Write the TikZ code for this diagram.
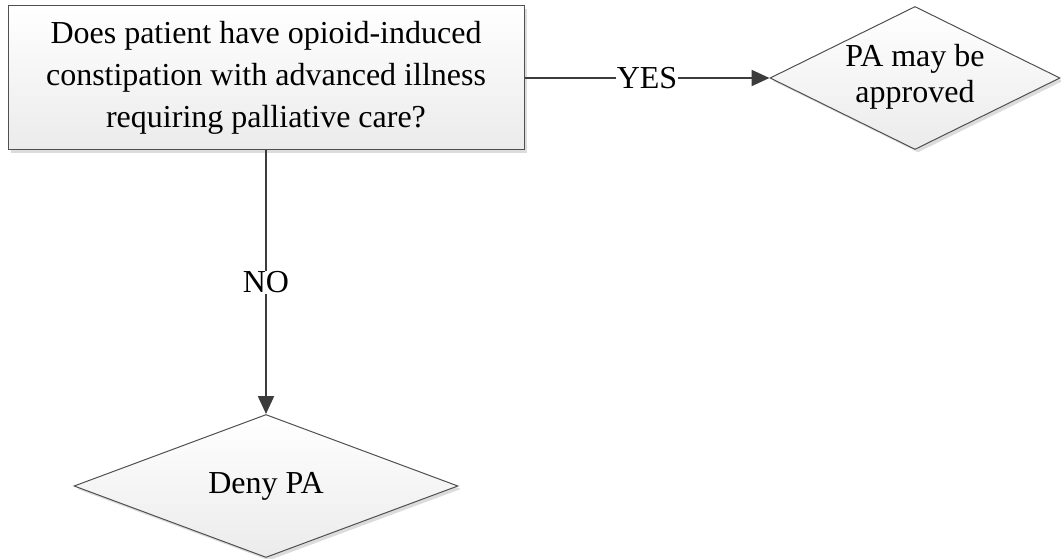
\documentclass[tikz,border=0pt]{standalone}
\usepackage{fontspec}
\setmainfont{Liberation Serif}
\usetikzlibrary{shapes.geometric,arrows.meta,shadows}
\definecolor{boxborder}{HTML}{505050}
\definecolor{fillbot}{HTML}{EBEBEB}
\definecolor{shadowc}{HTML}{DCDCDC}
\definecolor{linec}{HTML}{3C3C3C}
\begin{document}
\begin{tikzpicture}[x=1pt,y=1pt,
  shape base/.style={draw=boxborder, line width=1pt, top color=white, bottom color=fillbot,
    drop shadow={shadow xshift=3pt, shadow yshift=-3pt, fill=shadowc, opacity=1}},
  qbox/.style={shape base, rectangle, inner sep=0pt, minimum width=516pt, minimum height=144pt,
    align=center, font=\fontsize{32}{42}\selectfont},
  dia/.style={shape base, diamond, inner sep=0pt},
  dtxt/.style={align=center, inner sep=0pt, font=\fontsize{32}{36}\selectfont},
  conn/.style={draw=linec, line width=2.2pt, -{Triangle[length=18pt,width=16pt]}},
  lbl/.style={fill=white, inner sep=1pt, font=\fontsize{32}{36}\selectfont}]
\useasboundingbox (0,0) rectangle (1061,-559);
\node[qbox] (q) at (266,-78) {Does patient have opioid-induced\\constipation with advanced illness\\requiring palliative care?};
\node[dia, minimum width=290pt, minimum height=143pt] (yes) at (915,-78) {};
\node[dtxt] (yest) at (915,-77) {PA may be\\approved};
\node[dia, minimum width=384pt, minimum height=143pt] (deny) at (266,-486) {};
\node[dtxt] (denyt) at (266,-486) {Deny PA};
\draw[conn] (q.east) -- node[lbl] (yl) {YES} (yes.west);
\draw[conn] (q.south) -- node[lbl] (nl) {NO} (deny.north);
\end{tikzpicture}
\end{document}
